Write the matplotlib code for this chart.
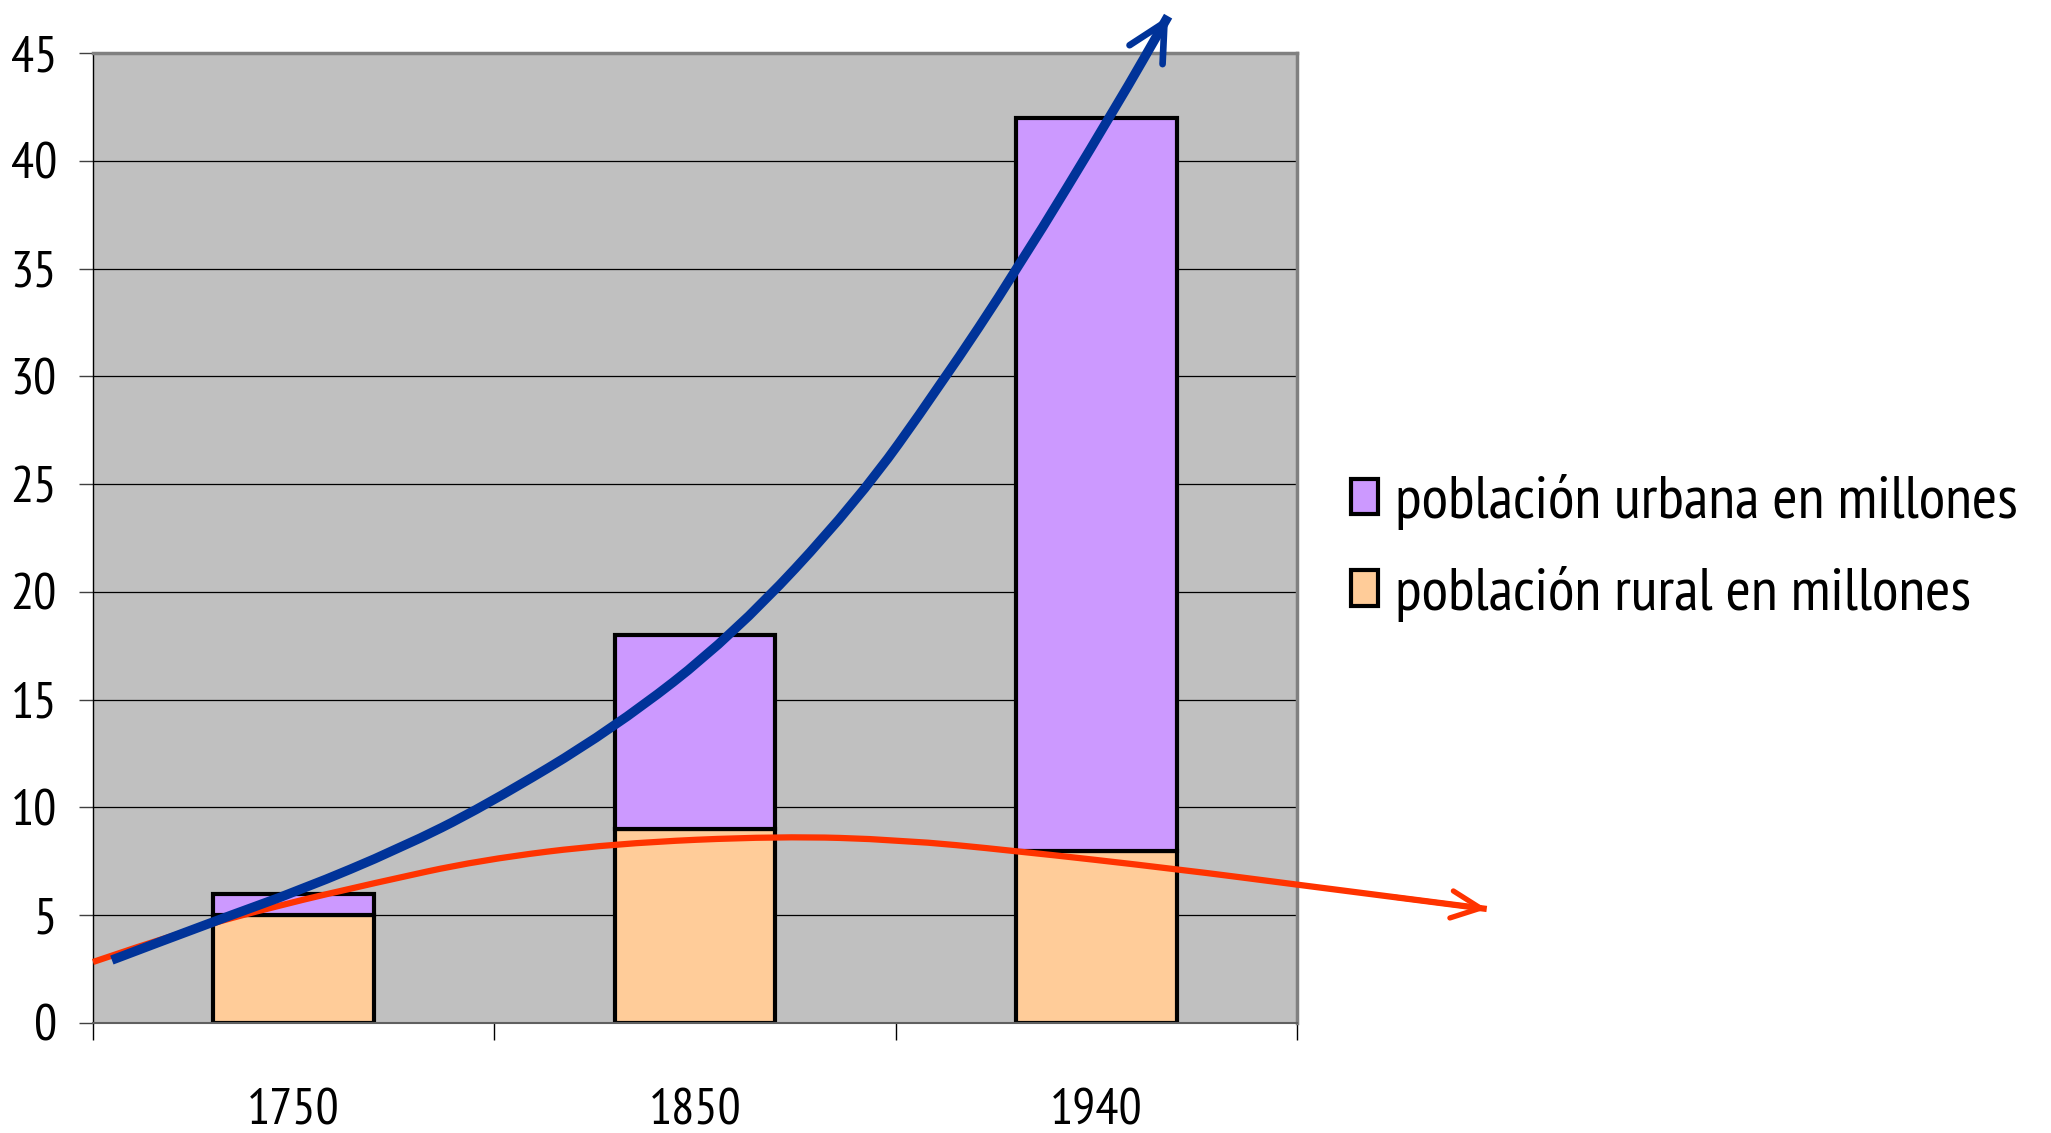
import numpy as np
import matplotlib.pyplot as plt
from matplotlib import font_manager
from matplotlib.patches import Patch, PathPatch
from matplotlib.path import Path

instaladas = set(f.name for f in font_manager.fontManager.ttflist)
fuente = 'DejaVu Sans'
for cand in ['PT Sans Narrow', 'Liberation Sans Narrow', 'Fira Sans Condensed',
             'Open Sans Condensed', 'Roboto Condensed', 'Archivo Narrow']:
    if cand in instaladas:
        fuente = cand
        break
plt.rcParams['font.family'] = [fuente, 'DejaVu Sans']

years = ['1750', '1850', '1940']
rural = [5, 9, 8]
urbana = [1, 9, 34]

# curvas dibujadas a mano encima del grafico (coordenadas de datos)
azul_x = [-0.453, -0.201, 0.018, 0.265, 0.472, 0.796, 1.095, 1.404, 1.611, 1.802, 2.052, 2.179]
azul_y = [2.92, 4.70, 6.17, 8.10, 10.02, 13.64, 17.98, 24.18, 29.57, 34.93, 42.58, 46.71]
rojo_x = [-0.5, -0.268, -0.034, 0.200, 0.464, 0.796, 1.212, 1.511, 1.792, 2.201, 2.508, 2.973]
rojo_y = [2.83, 4.30, 5.47, 6.49, 7.56, 8.33, 8.67, 8.50, 8.00, 7.14, 6.40, 5.29]

c_urb = '#CC99FF'
c_rur = '#FFCC99'


def curva(xs, ys):
    # bezier cuadratica por los puntos medios, para que la linea salga suave
    verts = [(xs[0], ys[0])]
    codes = [Path.MOVETO]
    for i in range(1, len(xs) - 1):
        verts += [(xs[i], ys[i]), ((xs[i] + xs[i + 1]) / 2, (ys[i] + ys[i + 1]) / 2)]
        codes += [Path.CURVE3, Path.CURVE3]
    verts.append((xs[-1], ys[-1]))
    codes.append(Path.LINETO)
    return Path(verts, codes)


fig = plt.figure(figsize=(20.51, 11.33), dpi=100)
ax = fig.add_axes([0.04534, 0.0971, 0.5870, 0.8561])
ax.set_facecolor('#C0C0C0')

x = np.arange(len(years))
ax.bar(x, rural, width=0.4, color=c_rur, edgecolor='black', linewidth=3, zorder=2)
ax.bar(x, urbana, width=0.4, bottom=rural, color=c_urb, edgecolor='black', linewidth=3, zorder=2)

ax.set_xlim(-0.5, 2.5)
ax.set_ylim(0, 45)
ax.set_yticks(range(0, 46, 5))
ax.yaxis.grid(True, color='black', linewidth=0.9)
ax.set_axisbelow(True)

# ticks en los limites de categoria, etiquetas en el centro
ax.set_xticks([-0.5, 0.5, 1.5, 2.5])
ax.set_xticklabels([])
ax.set_xticks(x, minor=True)
ax.set_xticklabels(years, minor=True)
ax.tick_params(axis='x', which='major', length=12, width=1, color='black')
ax.tick_params(axis='x', which='minor', length=0, pad=47, labelsize=37)
ax.tick_params(axis='y', length=10, width=1, color='#404040', pad=16, labelsize=37)

for s in ['top', 'right']:
    ax.spines[s].set_color('#808080')
    ax.spines[s].set_linewidth(2.5)
ax.spines['bottom'].set_color('#606060')
ax.spines['bottom'].set_linewidth(1.5)
ax.spines['left'].set_color('black')
ax.spines['left'].set_linewidth(1)

# flechas
for xs, ys, col, lw, hl, hw, hlw, z in [
        (azul_x, azul_y, '#003399', 6.8, 2.67, 1.37, 4.8, 4),
        (rojo_x, rojo_y, '#FF3300', 4.5, 2.1, 0.98, 3.8, 3)]:
    ax.add_patch(PathPatch(curva(xs, ys), facecolor='none', edgecolor=col, linewidth=lw,
                           capstyle='butt', joinstyle='round', clip_on=False, zorder=z))
    ax.annotate('', xy=(xs[-1], ys[-1]),
                xytext=((xs[-2] + xs[-1]) / 2, (ys[-2] + ys[-1]) / 2),
                arrowprops=dict(arrowstyle='->, head_length=%s, head_width=%s' % (hl, hw),
                                color=col, lw=hlw, mutation_scale=10,
                                shrinkA=0, shrinkB=0, capstyle='round', joinstyle='round'),
                annotation_clip=False, zorder=z)

handles = [Patch(facecolor=c_urb, edgecolor='black', linewidth=3),
           Patch(facecolor=c_rur, edgecolor='black', linewidth=3)]
fig.legend(handles, ['población urbana en millones', 'población rural en millones'],
           loc='center left', bbox_to_anchor=(0.6587, 0.5163), frameon=False,
           fontsize=44, handlelength=0.445, handleheight=0.52, handletextpad=0.27,
           labelspacing=0.58, borderpad=0, borderaxespad=0)

fig.savefig('out.png', dpi=100)
